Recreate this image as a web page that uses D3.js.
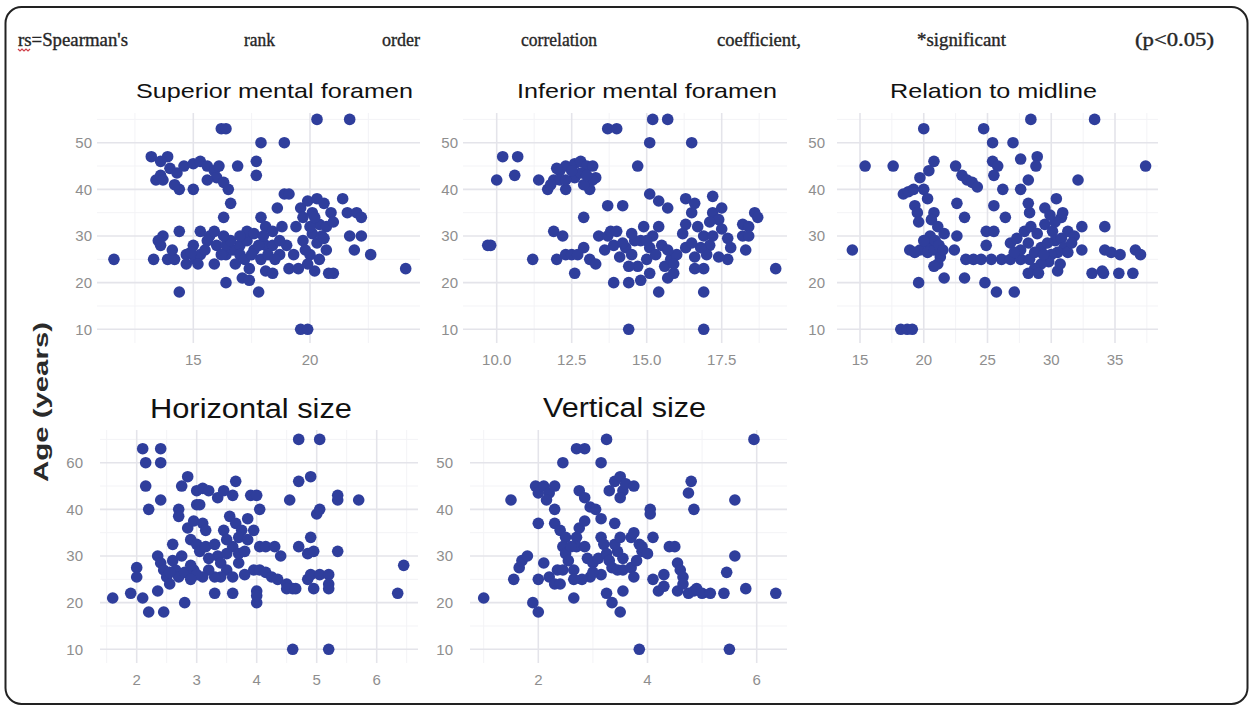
<!DOCTYPE html>
<html>
<head>
<meta charset="utf-8">
<script src="https://cdn.jsdelivr.net/npm/d3@7"></script>
<style>
	body { margin: 0; background: #fff; }
	svg { display: block; }
	.tick-label { font-family: "Liberation Sans", Arial, sans-serif; font-size: 15px; fill: #8e8e8e; }
	.panel-title { font-family: "Liberation Sans", Arial, sans-serif; fill: #111; }
	.age-label { font-family: "Liberation Sans", Arial, sans-serif; font-size: 20px; font-weight: bold; fill: #2a2a2a; }
	.note { font-family: "Liberation Serif", "Times New Roman", serif; font-size: 18px; fill: #262626; stroke: #262626; stroke-width: 0.35px; }
</style>
</head>
<body>
<div id="chart"></div>
<script>
	var note_words = ["rs=Spearman's", "rank", "order", "correlation", "coefficient,", "*significant", "(p<0.05)"]
	var panel_titles = ["Superior mental foramen", "Inferior mental foramen", "Relation to midline", "Horizontal size", "Vertical size"]
	var age_label = "Age (years)"
	var age_ticks = [10, 20, 30, 40, 50]
	var horizontal_age_tick_labels = ["10", "20", "30", "40", "60"]
	var superior_x_ticks = [15, 20]
	var inferior_x_ticks = [10, 12.5, 15, 17.5]
	var midline_x_ticks = [15, 20, 25, 30, 35]
	var horizontal_x_ticks = [2, 3, 4, 5, 6]
	var vertical_x_ticks = [2, 4, 6]

	// [measurement, age]
	var superior_points = [[11.6,25],[24.1,23],[20.3,55],[21.7,55],[16.2,53],[16.4,53],[17.9,50],[18.9,50],[16.9,45],[17.7,46],[17.7,43],
		[13.2,47],[13.9,47],[13.4,42],[13.6,43],[14.0,44.5],[14.3,43.5],[14.6,45],[15.0,45.5],[15.3,46],[15.6,45],[15.9,44],[16.1,45],[16.0,42.5],[16.3,41.5],[16.5,40],[14.4,40],[15.0,40],[15.6,42],[16.6,37],[16.3,34],[13.6,46],[13.7,42],[14.2,41],
		[13.3,25],[13.7,30],[13.6,28],[13.5,29],[14.4,31],[14.4,18],[13.9,25],[14.2,25],[14.7,24],[15.1,25],[15.3,31],[15.7,30],[15.9,31],[15.9,24],[16.4,20],[16.4,26],[16.7,27],[17.0,28],[17.3,29],[17.3,31],[17.1,21],[17.4,20.5],[17.8,18],[17.9,34],[18.1,32],[18.4,31],[17.9,25],[18.1,22.5],[18.4,22],[18.6,36],[18.9,39],[19.1,39],[18.8,32],[19.0,28],[19.3,26],[18.7,26],[19.1,23],[19.5,23],[19.6,10],[19.9,10],
		[15.6,29],[16.0,28],[16.4,28],[17.0,26],[17.6,27],[18.1,28],[18.4,28],[15.0,28],[15.3,26],[14.7,26],[17.6,30.5],[16.2,26],[16.6,29],[17.2,25],[17.5,26],[17.8,28],[18.2,26],[18.5,25],[14.9,26.5],[15.5,27],[16.8,24],[17.4,23],[18.0,30],[18.7,29],[17.0,30],[16.3,30],[15.2,24],[14.1,27],
		[19.6,36],[19.9,37.5],[20.3,38],[20.6,37],[20.1,35],[19.7,34],[20.4,32.5],[20.1,30.5],[20.3,28.5],[20.0,26],[20.2,22.5],[20.7,27],[21.0,22],[20.8,22],[21.4,38],[21.6,35],[22.0,35],[22.2,34],[22.2,30],[21.7,30],[21.9,27],[22.6,26],[20.9,35],[20.7,32],[19.7,29],[19.4,32],[20.0,32],[20.5,30],[19.8,27],[20.4,25],[19.9,24],[20.6,29.5],[21.0,33],[20.2,34]]

	var inferior_points = [[9.7,28],[9.8,28],[10.0,42],[10.2,47],[10.7,47],[10.6,43],[11.2,25],
		[11.4,42],[11.7,40],[11.9,42],[12.1,44],[12.3,45],[12.6,45.5],[12.8,46],[13.0,45],[13.2,45],[13.3,42.5],[13.2,42],[13.1,40],[12.3,40],[12.1,42],[12.6,42.5],[12.8,43.5],[12.0,44.5],[12.3,42],[12.9,41],[12.5,44],[13.0,43],[11.8,41],
		[12.9,34],[11.9,31],[12.2,30],[12.0,25],[12.3,26],[12.6,22],[12.5,26],[12.9,27.5],[13.1,25],[13.3,24],[13.4,30],[13.7,30],[13.8,31],[14.0,31],[13.7,36.5],[14.2,36.5],[13.7,53],[14.0,53],[14.7,45],[13.9,20],[14.4,20],[14.4,10],[12.7,26],[13.6,27],[13.9,28],
		[14.3,27.5],[14.5,26],[14.8,29],[14.9,32],[14.7,23.5],[15.0,25],[15.1,27.5],[15.2,30],[15.4,32],[15.3,26],[15.6,23.5],[15.8,25],[15.7,21],[15.4,18],[15.9,22],[16.0,26],[15.1,22],[14.8,20.5],[15.0,29],[14.6,29],[14.2,28.5],[14.1,25.5],[14.4,23.5],[15.5,28],[15.7,27],[14.5,30.5],[15.9,24],
		[15.1,39],[15.4,37.5],[15.7,36],[15.1,50],[15.2,55],[15.7,55],[16.5,50],
		[16.3,38],[16.6,37],[16.5,35],[16.3,32.5],[16.2,30.5],[16.3,27.5],[16.6,25.5],[16.6,23],[16.9,23],[16.9,18],[16.9,10],[16.7,32],[16.9,30],[17.1,28],[17.2,38.5],[17.2,35],[17.4,33.5],[17.5,31.5],[17.7,29.5],[17.8,27.5],[17.7,25],[17.4,25.5],[17.2,30],[17.0,26],[16.8,27.5],[17.5,36],[17.1,33],[16.5,28.5],
		[18.2,32.5],[18.2,30],[18.4,32],[18.6,35],[18.7,34],[18.3,27],[18.4,30],[19.3,23]]

	var midline_points = [[14.4,27],[15.4,45],[17.6,45],[18.4,39],[18.8,39.5],[19.2,40],[18.2,10],[18.7,10],[19.1,10],
		[20.0,53],[20.8,46],[20.4,44],[19.7,42.5],[20.0,40],[20.3,38],[19.3,36.5],[19.5,35],[19.6,33],[20.8,35],[20.6,33.5],[21.1,32],[21.6,30.5],[20.5,30],[20.3,28.5],[19.7,27],[18.9,27],[19.3,26.5],[20.3,26.5],[20.8,27],[21.3,25.5],[21.1,24],[20.8,23.5],[19.6,20],[21.6,21],[22.6,30],[22.4,27],[23.2,21],[22.5,45],[22.6,37],[23.2,34],[23.0,43],[23.4,42],[23.8,41.5],[24.2,40.5],[23.3,25],[23.9,25],[24.5,25],[20.9,29],[21.2,28],[20.0,29],[21.5,27],
		[24.7,53],[25.4,50],[27.0,50],[25.4,46],[25.8,45],[25.5,43],[26.2,40],[25.5,36.5],[26.4,34],[27.6,46.5],[27.6,40],[28.2,42],[28.2,37],[28.4,55],[28.9,47],[28.8,45],[28.3,35],[29.5,36],[30.4,38],[30.8,34],
		[24.9,31],[25.5,31],[24.9,28],[25.3,25],[26.1,25],[26.8,25],[27.6,25],[28.3,25],[25.7,18],[27.1,18],[24.8,20],
		[26.8,28.5],[27.3,29.5],[27.9,31],[28.4,32],[28.9,30.5],[29.2,27.5],[28.7,26.5],[28.2,28.5],[27.6,27],[27.1,26.5],[29.5,32.5],[30.1,31],[30.3,29],[30.8,29.5],[31.3,31],[31.8,30],[31.0,27.5],[30.5,26.5],[30.0,26],[29.8,24.5],[29.2,24],[28.7,23],[28.2,22],[29.0,22],[30.5,22.5],[31.3,26.5],[32.4,27],[32.4,32],[30.9,35],[29.7,28.5],[30.3,33],[29.9,34.5],[30.7,24],[31.6,28.5],[29.4,26],
		[32.1,42],[33.4,55],
		[33.2,22],[34.1,22],[34.2,32],[34.2,27],[34.7,26.5],[35.3,22],[35.4,26],[36.4,22],[36.6,27],[37.0,26],[37.4,45],[34.0,22.5]]

	var horizontal_points = [[1.6,21],[1.9,22],[2.0,27.5],[2.0,25.5],[2.1,53],[2.15,50],[2.15,45],[2.1,21],[2.2,18],[2.2,40],[2.4,53],[2.4,50],[2.4,42],[2.35,22.5],[2.45,18],
		[2.35,30],[2.4,28.5],[2.45,27],[2.5,25.5],[2.55,24],[2.6,29],[2.65,27],[2.7,25.5],[2.8,26.5],[2.95,27],[2.9,28],[2.75,30],[2.6,32.5],[2.7,40],[2.7,38.5],[2.8,20],[2.75,45],[2.85,47],[3.0,44],[3.1,44.5],[3.2,44],[3.35,42.5],[3.45,44],[3.65,46],[3.6,43],[3.9,43],[4.0,43],[4.05,40],[3.0,41],[3.05,41],[2.85,36],[2.95,37.5],[3.1,37],[3.15,35.5],[2.9,33.5],[3.0,32.5],[3.05,31],
		[3.15,32],[3.3,32.5],[3.35,30],[3.4,28.5],[3.5,27],[3.6,25.5],[3.7,28.5],[3.45,35.5],[3.55,38.5],[3.65,37],[3.75,35.5],[3.7,34],[3.6,32],[3.5,30.5],[3.4,25.5],[3.3,25.5],[3.2,27],[3.1,25.5],[3.2,29.5],[3.3,22],[3.6,22],[3.7,30.5],[3.8,31],[3.85,33.5],[3.95,35.5],[3.85,38],[3.95,27],[4.05,27],[4.15,26.5],[4.25,25.5],[4.05,32],[4.15,32],[4.0,22.5],[4.0,20],[4.0,21.5],[3.0,26],[2.9,25],[3.8,26],[2.55,26.5],[3.5,33.5],
		[4.3,32],[4.4,30],[4.35,25],[4.5,24],[4.6,23],[4.5,23],[4.65,23],[4.55,42],[4.6,10],[4.7,55],[4.7,46],[4.9,47],[4.7,32],[4.85,30.5],[4.9,34],[4.95,31],[4.85,25],[4.9,26],[4.95,23],[5.05,26],[5.05,55],[5.0,39],[5.05,40],[5.2,26],[5.2,24],[5.2,23],[5.2,10],[5.35,42],[5.35,43],[5.35,31],[5.7,42],[6.35,22],[6.45,28]]

	var vertical_points = [[1.0,21],[1.5,42],[1.55,25],[1.65,27.5],[1.7,29],[1.8,30],[1.9,20],[2.0,18],[2.0,37],[2.0,25],
		[1.95,45],[2.0,43.5],[2.1,45],[2.2,43.5],[2.3,45],[2.15,42],[2.3,40],[2.1,28.5],[2.2,25.5],[2.3,24],[2.4,24],[2.35,27],
		[2.45,50],[2.65,21],[2.7,53],[2.85,53],[3.25,55],[3.15,50],[2.75,44],[2.85,42.5],[2.95,40.5],[3.05,40],[3.15,38],
		[2.3,37],[2.4,35.5],[2.5,34],[2.45,32],[2.5,30.5],[2.55,29],[2.45,27],[2.65,27],[2.7,34],[2.75,36],[2.85,37.5],[2.7,32],[2.6,32],[2.85,32],[2.9,29.5],[3.0,28.5],[3.1,29.5],[2.95,25.5],[2.8,25],[2.65,25],
		[3.15,34],[3.2,32.5],[3.25,30.5],[3.3,29],[3.35,27.5],[3.45,27],[3.55,27],[3.7,27.5],[3.55,29.5],[3.45,31],[3.4,32.5],[3.5,34],[3.7,34],[3.75,35],[3.85,32.5],[3.9,31],[3.8,29],[3.75,25.5],[3.55,22.5],[3.25,22],[3.35,20],[3.5,18],[3.4,37],[3.3,44],[3.4,46],[3.5,47],[3.55,44],[3.6,45.5],[3.75,45],[3.5,42.5],[3.15,26],[3.0,26.5],
		[3.85,10],[4.05,40],[4.05,39],[4.1,34],[3.9,32],[4.0,30.5],[4.1,25],[4.2,22.5],[4.3,23.5],[4.3,26],[4.4,32],[4.5,32],[4.55,28.5],[4.6,27],[4.65,25.5],[4.55,22.5],[4.65,24],[4.75,22],[4.85,22.5],[4.9,23],[5.0,22],[5.15,22],[4.75,43.5],[4.8,46],[4.85,40],[5.4,22],[5.45,26.5],[5.5,10],[5.6,30],[5.6,42],[5.8,23],[5.95,55],[6.35,22]]

	var width = 1249
	var height = 705
	var dot_color = "#2f3e9c"
	var dot_radius = 5.8

	// pixel anchors of the first / last tick on each axis, and the panel box
	var panels = [
		{points: superior_points, x_ticks: superior_x_ticks, x_fmt: d3.format("d"), x_range: [193.3, 310], y_range: [329.3, 142.7],
			box: {left: 97, right: 420, top: 113, bottom: 343}, y_label_x: 92, x_label_y: 365, title: {text: panel_titles[0], x: 136, y: 98, len: 277, size: 21}},
		{points: inferior_points, x_ticks: inferior_x_ticks, x_fmt: d3.format(".1f"), x_range: [496.7, 721.7], y_range: [329.3, 142.7],
			box: {left: 463, right: 787, top: 113, bottom: 343}, y_label_x: 458, x_label_y: 365, title: {text: panel_titles[1], x: 517, y: 98, len: 260, size: 21}},
		{points: midline_points, x_ticks: midline_x_ticks, x_fmt: d3.format("d"), x_range: [860, 1115], y_range: [329.3, 142.7],
			box: {left: 837, right: 1158, top: 113, bottom: 343}, y_label_x: 825, x_label_y: 365, title: {text: panel_titles[2], x: 890, y: 98, len: 207, size: 21}},
		{points: horizontal_points, x_ticks: horizontal_x_ticks, x_fmt: d3.format("d"), x_range: [136.7, 376.7], y_range: [649.3, 462.7],
			box: {left: 100, right: 418, top: 430, bottom: 663}, y_label_x: 83, x_label_y: 685, y_labels: horizontal_age_tick_labels, title: {text: panel_titles[3], x: 150, y: 418, len: 202, size: 27}},
		{points: vertical_points, x_ticks: vertical_x_ticks, x_fmt: d3.format("d"), x_range: [538.3, 756.7], y_range: [649.3, 462.7],
			box: {left: 470, right: 787, top: 430, bottom: 663}, y_label_x: 453, x_label_y: 685, title: {text: panel_titles[4], x: 543, y: 417, len: 163, size: 27}}
	]

	var svg = d3.select("#chart")
		.append("svg")
			.attr("width", width)
			.attr("height", height)

	// outer frame, only its left / top sides show in the picture
	svg.append("rect")
		.attr("x", 5.5)
		.attr("y", 7)
		.attr("width", 1242)
		.attr("height", 697)
		.attr("rx", 16)
		.attr("fill", "none")
		.attr("stroke", "#222")
		.attr("stroke-width", 2)

	function draw_note() {
		var note_x = [18, 244, 382, 521, 717, 917, 1135]
		var note_len = [110, 31, 38, 76, 84, 89, 79]
		svg.selectAll("text.note")
			.data(note_words)
			.enter()
			.append("text")
				.attr("class", "note")
				.attr("x", (d, i) => note_x[i])
				.attr("y", 46)
				.attr("textLength", (d, i) => note_len[i])
				.attr("lengthAdjust", "spacingAndGlyphs")
				.text((d) => d)
		// spell-check squiggle under "rs"
		var squiggle = d3.path()
		squiggle.moveTo(18, 49)
		for (var k = 0; k < 6; k++) {
			squiggle.lineTo(20 + k * 2, k % 2 == 0 ? 51 : 49)
		}
		svg.append("path")
			.attr("d", squiggle.toString())
			.attr("fill", "none")
			.attr("stroke", "#d0404a")
			.attr("stroke-width", 1.2)
	}

	function draw_panel(p) {
		var x = d3.scaleLinear().domain([p.x_ticks[0], p.x_ticks[p.x_ticks.length - 1]]).range(p.x_range)
		var y = d3.scaleLinear().domain([age_ticks[0], age_ticks[age_ticks.length - 1]]).range(p.y_range)
		var g = svg.append("g").attr("class", "panel")
		var x_lo = x.invert(p.box.left), x_hi = x.invert(p.box.right)
		var y_lo = y.invert(p.box.bottom), y_hi = y.invert(p.box.top)
		var x_step = p.x_ticks[1] - p.x_ticks[0]
		var x_minor = p.x_ticks.map((t) => t - x_step / 2).concat([p.x_ticks[p.x_ticks.length - 1] + x_step / 2]).filter((t) => t > x_lo && t < x_hi)
		var y_minor = age_ticks.map((t) => t - 5).concat([55]).filter((t) => t > y_lo && t < y_hi)

		g.selectAll("line.minor-x").data(x_minor).enter().append("line")
			.attr("x1", x).attr("x2", x).attr("y1", p.box.top).attr("y2", p.box.bottom)
			.attr("stroke", "#f3f3f6").attr("stroke-width", 1)
		g.selectAll("line.minor-y").data(y_minor).enter().append("line")
			.attr("x1", p.box.left).attr("x2", p.box.right).attr("y1", y).attr("y2", y)
			.attr("stroke", "#f3f3f6").attr("stroke-width", 1)
		g.selectAll("line.major-x").data(p.x_ticks).enter().append("line")
			.attr("x1", x).attr("x2", x).attr("y1", p.box.top).attr("y2", p.box.bottom)
			.attr("stroke", "#e4e4ea").attr("stroke-width", 1.6)
		g.selectAll("line.major-y").data(age_ticks).enter().append("line")
			.attr("x1", p.box.left).attr("x2", p.box.right).attr("y1", y).attr("y2", y)
			.attr("stroke", "#e4e4ea").attr("stroke-width", 1.6)

		var y_labels = p.y_labels || age_ticks.map((t) => String(t))
		g.selectAll("text.y-tick").data(age_ticks).enter().append("text")
			.attr("class", "tick-label")
			.attr("x", p.y_label_x)
			.attr("y", y)
			.attr("dy", "0.35em")
			.style("text-anchor", "end")
			.text((d, i) => y_labels[i])
		g.selectAll("text.x-tick").data(p.x_ticks).enter().append("text")
			.attr("class", "tick-label")
			.attr("x", x)
			.attr("y", p.x_label_y)
			.style("text-anchor", "middle")
			.text(p.x_fmt)

		g.selectAll("circle").data(p.points).enter().append("circle")
			.attr("cx", (d) => x(d[0]))
			.attr("cy", (d) => y(d[1]))
			.attr("r", dot_radius)
			.attr("fill", dot_color)

		g.append("text")
			.attr("class", "panel-title")
			.attr("x", p.title.x)
			.attr("y", p.title.y)
			.attr("textLength", p.title.len)
			.attr("lengthAdjust", "spacingAndGlyphs")
			.style("font-size", p.title.size + "px")
			.text(p.title.text)
	}

	draw_note()
	panels.forEach(draw_panel)

	svg.append("text")
		.attr("class", "age-label")
		.attr("transform", "translate(48, 402) rotate(-90)")
		.attr("textLength", 160)
		.attr("lengthAdjust", "spacingAndGlyphs")
		.style("text-anchor", "middle")
		.text(age_label)
</script>
</body>
</html>
